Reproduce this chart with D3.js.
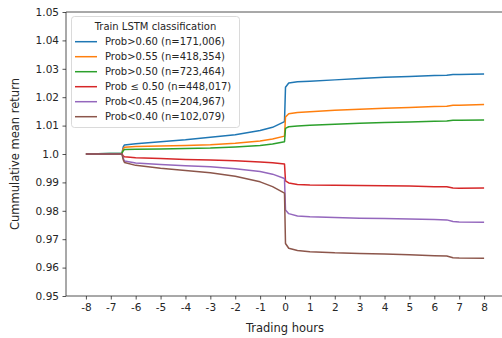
<!DOCTYPE html>
<html><head><meta charset="utf-8">
<script src="https://cdn.jsdelivr.net/npm/d3@7"></script>
<style>body{margin:0;background:#fff}svg{display:block}text{font-family:"DejaVu Sans",sans-serif;fill:#262626}</style>
</head><body><svg id="c" width="502" height="338"></svg>
<script>
const hours = [-8, -6.55, -6.5, -6.45, -6, -5, -4, -3, -2, -1, -0.5, -0.02, 0.02, 0.15, 0.5, 1, 2, 3, 4, 5, 6, 6.5, 6.75, 7, 8];
const seriesNames = ["Prob>0.60 (n=171,006)", "Prob>0.55 (n=418,354)", "Prob>0.50 (n=723,464)", "Prob \u2264 0.50 (n=448,017)", "Prob<0.45 (n=204,967)", "Prob<0.40 (n=102,079)"];
const seriesColors = ["#1f77b4", "#ff7f0e", "#2ca02c", "#d62728", "#9467bd", "#8c564b"];
const blue = [1.0, 1.0003, 1.0025, 1.0032, 1.0036, 1.0043, 1.0050, 1.0059, 1.0068, 1.0083, 1.0094, 1.0114, 1.0235, 1.0250, 1.0254, 1.0256, 1.0261, 1.0266, 1.0270, 1.0273, 1.0276, 1.0277, 1.0280, 1.0280, 1.0282];
const orange = [1.0, 1.0002, 1.0018, 1.0024, 1.0026, 1.0028, 1.0030, 1.0033, 1.0038, 1.0046, 1.0053, 1.0063, 1.0130, 1.0142, 1.0146, 1.0149, 1.0154, 1.0158, 1.0161, 1.0164, 1.0167, 1.0168, 1.0172, 1.0172, 1.0174];
const green = [1.0, 1.0003, 1.0012, 1.0016, 1.0017, 1.0018, 1.0019, 1.0021, 1.0025, 1.0030, 1.0035, 1.0043, 1.0090, 1.0096, 1.0099, 1.0101, 1.0105, 1.0108, 1.0111, 1.0113, 1.0115, 1.0116, 1.0119, 1.0119, 1.0120];
const red = [1.0, 1.0, 0.9993, 0.9990, 0.9987, 0.9984, 0.9981, 0.9979, 0.9976, 0.9972, 0.9969, 0.9965, 0.9905, 0.9898, 0.9893, 0.9891, 0.9890, 0.9889, 0.9888, 0.9887, 0.9885, 0.9885, 0.9880, 0.9879, 0.9880];
const purple = [1.0, 1.0, 0.9985, 0.9975, 0.9968, 0.9963, 0.9959, 0.9955, 0.9948, 0.9938, 0.9929, 0.9914, 0.9803, 0.9790, 0.9782, 0.9779, 0.9776, 0.9774, 0.9773, 0.9771, 0.9769, 0.9768, 0.9762, 0.9761, 0.9760];
const brown = [1.0, 1.0, 0.9980, 0.9970, 0.9960, 0.9950, 0.9942, 0.9934, 0.9922, 0.9902, 0.9885, 0.9862, 0.9685, 0.9668, 0.9660, 0.9656, 0.9652, 0.9650, 0.9648, 0.9645, 0.9642, 0.9641, 0.9635, 0.9634, 0.9633];
const xTicks = [-8,-7,-6,-5,-4,-3,-2,-1,0,1,2,3,4,5,6,7,8];
const xTickLabels = ["-8","-7","-6","-5","-4","-3","-2","-1","0","1","2","3","4","5","6","7","8"];
const yTicks = [0.95,0.96,0.97,0.98,0.99,1.0,1.01,1.02,1.03,1.04,1.05];
const yTickLabels = ["0.95","0.96","0.97","0.98","0.99","1.0","1.01","1.02","1.03","1.04","1.05"];
const legendTitle = "Train LSTM classification";

const allSeries = [blue, orange, green, red, purple, brown];
const svg = d3.select("#c");
const L = 66, R = 504, T = 12, B = 296;
const x = d3.scaleLinear().domain([-8.8, 8.8]).range([L, R]);
const y = d3.scaleLinear().domain([0.95, 1.05]).range([B, T]);

// axes
const xa = svg.append("g").attr("transform", `translate(0,${B})`)
  .call(d3.axisBottom(x).tickValues(xTicks).tickSize(3.5).tickPadding(4).tickFormat((d,i)=>xTickLabels[i]));
const ya = svg.append("g").attr("transform", `translate(${L},0)`)
  .call(d3.axisLeft(y).tickValues(yTicks).tickSize(3.5).tickPadding(3.5).tickFormat((d,i)=>yTickLabels[i]));
[xa, ya].forEach(a => {
  a.selectAll(".domain").remove();
  a.selectAll("line").attr("stroke", "#262626").attr("stroke-width", 0.8);
  a.selectAll("text").attr("font-size", 10.5).attr("font-family", "DejaVu Sans").attr("fill", "#262626");
});
// spines
svg.append("line").attr("x1", L).attr("x2", L).attr("y1", T).attr("y2", B).attr("stroke", "#262626").attr("stroke-width", 0.8);
svg.append("line").attr("x1", L).attr("x2", R).attr("y1", B).attr("y2", B).attr("stroke", "#262626").attr("stroke-width", 0.8);
svg.append("line").attr("x1", L).attr("x2", R).attr("y1", T).attr("y2", T).attr("stroke", "#262626").attr("stroke-width", 0.8);
svg.append("line").attr("x1", R).attr("x2", R).attr("y1", T).attr("y2", B).attr("stroke", "#262626").attr("stroke-width", 0.8);

// lines
const line = d3.line().x((d,i)=>x(hours[i])).y(d=>y(d));
allSeries.forEach((s, k) => {
  svg.append("path").datum(s).attr("d", line).attr("fill", "none")
    .attr("stroke", seriesColors[k]).attr("stroke-width", 1.5).attr("stroke-linejoin", "round");
});

// labels
svg.append("text").attr("x", 285).attr("y", 332).attr("text-anchor", "middle").attr("font-size", 11.5).text("Trading hours");
svg.append("text").attr("transform", "translate(19,154) rotate(-90)").attr("text-anchor", "middle").attr("font-size", 11.5).text("Cummulative mean return");

// legend
const lg = svg.append("g");
lg.append("rect").attr("x", 71.5).attr("y", 16.5).attr("width", 168).attr("height", 111).attr("rx", 3)
  .attr("fill", "#fff").attr("fill-opacity", 0.8).attr("stroke", "#d0d0d0").attr("stroke-width", 0.8);
lg.append("text").attr("x", 155.5).attr("y", 29.5).attr("text-anchor", "middle").attr("font-size", 10).text(legendTitle);
seriesNames.forEach((n, k) => {
  const yy = 41.7 + k * 15;
  lg.append("line").attr("x1", 75).attr("x2", 97).attr("y1", yy).attr("y2", yy)
    .attr("stroke", seriesColors[k]).attr("stroke-width", 1.5);
  lg.append("text").attr("x", 105).attr("y", yy + 3.6).attr("font-size", 10).text(n);
});
</script></body></html>
